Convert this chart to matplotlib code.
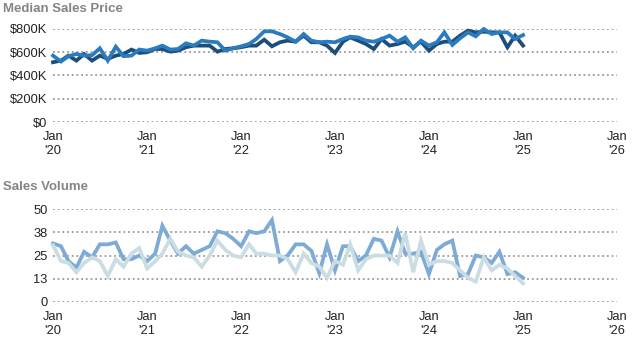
import matplotlib
matplotlib.use("Agg")
import matplotlib.pyplot as plt
import pandas as pd

plt.rcParams['font.family'] = ['Liberation Sans', 'DejaVu Sans']

months = pd.date_range("2020-01-01", "2025-01-01", freq="MS")

price_dark = [514, 528, 571, 528, 585, 528, 571, 543, 571, 585, 623, 594,
              600, 628, 628, 605, 614, 643, 657, 657, 657, 605, 628, 634,
              643, 657, 657, 708, 651, 686, 700, 691, 743, 686, 686, 657,
              594, 691, 728, 700, 671, 628, 714, 657, 671, 691, 643, 691,
              614, 671, 691, 691, 743, 786, 771, 777, 771, 771, 643, 743, 657]
price_blue = [571, 520, 566, 585, 571, 575, 634, 528, 648, 566, 571, 623,
              614, 634, 657, 623, 628, 677, 657, 700, 691, 686, 614, 634,
              651, 671, 714, 780, 780, 757, 728, 691, 757, 700, 686, 691,
              686, 714, 734, 728, 700, 691, 714, 743, 691, 728, 634, 700,
              657, 686, 771, 663, 720, 771, 737, 800, 757, 771, 771, 714, 748]

vol_blue = [31.5, 30, 22, 18.5, 27, 24, 31, 31, 32, 23, 23, 25,
            22, 26, 41, 33, 26, 30, 26, 28, 30, 38, 37, 34,
            30, 38, 37, 38, 44, 22, 25, 31, 31, 27.5, 15.5, 31,
            17, 30, 30, 22, 25, 34, 33, 24, 38, 26, 26, 27,
            15, 28, 31, 33, 14, 15, 25, 24, 21, 27, 15, 16, 13]
vol_light = [30.5, 22, 21, 16, 21, 24, 22, 14, 23, 19, 26, 29,
             18, 22, 26, 34, 27, 25, 24, 19, 25, 33, 28, 25,
             24, 31, 26, 26, 25, 25, 23, 16, 26, 21, 19, 13,
             22, 20, 31, 17, 23, 25, 25, 25, 21, 37, 16, 33,
             20, 22, 22, 21, 17, 13, 11, 24, 17, 20, 18, 14, 10]

price_ticks = [0, 200, 400, 600, 800]
price_labels = ["$0", "$200K", "$400K", "$600K", "$800K"]
vol_ticks = [0, 12.5, 25, 37.5, 50]
vol_labels = ["0", "13", "25", "38", "50"]
year_ticks = pd.date_range("2020-01-01", "2026-01-01", freq="YS")
year_labels = ["Jan\n'%02d" % (d.year % 100) for d in year_ticks]

W, H = 633, 350
fig = plt.figure(figsize=(W / 100, H / 100), dpi=100)

x0, x1 = 53, 617
ax1 = fig.add_axes([x0 / W, 1 - 122 / H, (x1 - x0) / W, 93 / H])
ax2 = fig.add_axes([x0 / W, 1 - 302 / H, (x1 - x0) / W, 93 / H])

grid_kw = dict(color="#9a9a9a", linestyle=(0, (1, 1.6)), linewidth=1.3)

def style(ax, ticks, labels, ylim):
    ax.set_xlim(year_ticks[0], year_ticks[-1])
    ax.set_ylim(*ylim)
    for s in ax.spines.values():
        s.set_visible(False)
    ax.set_yticks(ticks)
    ax.set_yticklabels(labels)
    ax.set_xticks(year_ticks)
    ax.set_xticklabels(year_labels, linespacing=1.22)
    ax.tick_params(axis="both", length=0, labelsize=9.3, colors="#222222")
    ax.tick_params(axis="y", pad=4)
    ax.tick_params(axis="x", pad=6.5)
    for t in ticks:
        ax.axhline(t, zorder=0, **grid_kw)

lw = 2.7
ax1.plot(months, price_dark, color="#1d4e7b", lw=lw, clip_on=False, solid_joinstyle="miter")
ax1.plot(months, price_blue, color="#2a7cbf", lw=lw, clip_on=False, solid_joinstyle="miter")
style(ax1, price_ticks, price_labels, (0, 800))

ax2.plot(months, vol_blue, color="#7dabd5", lw=lw, clip_on=False, solid_joinstyle="miter")
ax2.plot(months, vol_light, color="#c9dde3", lw=lw, clip_on=False, solid_joinstyle="miter")
style(ax2, vol_ticks, vol_labels, (0, 50))

fig.text(3 / W, 1 - 9 / H, "Median Sales Price", fontsize=9.5, fontweight="bold",
         color="#858585", va="center", ha="left")
fig.text(3 / W, 1 - 187 / H, "Sales Volume", fontsize=9.5, fontweight="bold",
         color="#858585", va="center", ha="left")

fig.savefig("out.png", dpi=100)
